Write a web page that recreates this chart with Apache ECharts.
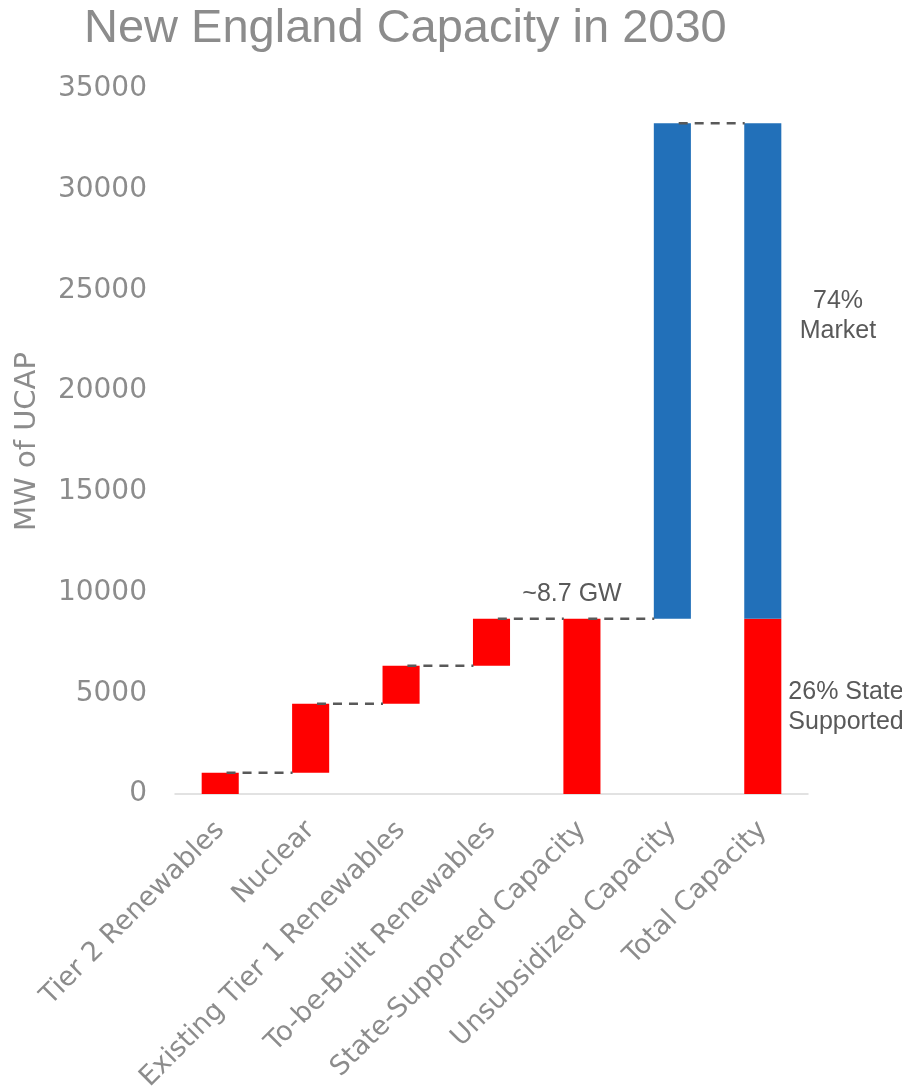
<!DOCTYPE html>
<html>
<head>
    <meta charset="utf-8">
    <title>New England Capacity in 2030</title>
    <script src="https://cdn.jsdelivr.net/npm/echarts@6/dist/echarts.min.js"></script>
    <style>
        html, body { margin: 0; padding: 0; background: #fff; }
        #chart-container { width: 902px; height: 1089px; }
    </style>
</head>
<body>
<div id="chart-container"></div>

<script>
    // data
    var categories = [
        'Tier 2 Renewables', 'Nuclear', 'Existing Tier 1 Renewables',
        'To-be-Built Renewables', 'State-Supported Capacity',
        'Unsubsidized Capacity', 'Total Capacity'
    ];
    var baseValues   = [0, 1050, 4480, 6370, 0, 8700, 0];       // invisible floor of each step
    var stateValues  = [1050, 3430, 1890, 2330, 8700, 0, 8700];  // red part
    var marketValues = [0, 0, 0, 0, 0, 24600, 24600];            // blue part

    // connector lines sit at the top of each bar, up to the next bar
    var tops = baseValues.map(function (b, i) { return b + stateValues[i] + marketValues[i]; });
    var connectorData = tops.slice(0, categories.length - 1).map(function (v, i) { return [i, v]; });

    var grey = '#8c8c8c';
    var dark = '#595959';

    var myChart = echarts.init(document.getElementById('chart-container'));

    var option = {
        animation: false,
        title: {
            text: 'New England Capacity in 2030',
            left: 84,
            top: 6,
            padding: 0,
            textStyle: {
                fontFamily: 'Liberation Sans',
                fontSize: 47,
                fontWeight: 'normal',
                color: grey
            }
        },
        grid: { left: 175, right: 94, top: 89, bottom: 295, containLabel: false, outerBoundsMode: 'none' },
        xAxis: {
            type: 'category',
            data: categories,
            axisLine: { lineStyle: { color: '#d9d9d9', width: 1.5 } },
            axisTick: { show: false },
            axisLabel: {
                interval: 0,
                rotate: 45,
                margin: 32,
                color: grey,
                fontSize: 27,
                fontFamily: 'DejaVu Sans'
            }
        },
        yAxis: {
            type: 'value',
            min: 0,
            max: 35000,
            interval: 5000,
            name: 'MW of UCAP',
            nameLocation: 'middle',
            nameGap: 133,
            nameTextStyle: { color: grey, fontSize: 29, fontFamily: 'DejaVu Sans' },
            axisLine: { show: false },
            axisTick: { show: false },
            splitLine: { show: false },
            axisLabel: {
                color: grey, fontSize: 28, margin: 28, fontFamily: 'DejaVu Sans',
                formatter: function (v) { return String(v); }
            }
        },
        series: [
            {
                name: 'base',
                type: 'bar',
                stack: 'w',
                barWidth: '41%',
                itemStyle: { color: 'transparent' },
                data: baseValues
            },
            {
                name: 'State Supported',
                type: 'bar',
                stack: 'w',
                barWidth: '41%',
                itemStyle: { color: '#ff0000' },
                data: stateValues
            },
            {
                name: 'Market',
                type: 'bar',
                stack: 'w',
                barWidth: '41%',
                itemStyle: { color: '#2270b9' },
                data: marketValues
            },
            {
                name: 'connectors',
                type: 'custom',
                z: 5,
                encode: { x: 0, y: 1 },
                data: connectorData,
                renderItem: function (params, api) {
                    var i = api.value(0);
                    var v = api.value(1);
                    var p0 = api.coord([i, v]);
                    var p1 = api.coord([i + 1, v]);
                    var band = api.size([1, 0])[0];
                    return {
                        type: 'line',
                        shape: { x1: p0[0] + band * 0.07, y1: p0[1], x2: p1[0] - band * 0.2, y2: p1[1] },
                        style: { stroke: dark, lineWidth: 2.5, lineDash: [9, 7] }
                    };
                }
            }
        ],
        graphic: [
            {
                type: 'text',
                x: 572, y: 594,
                style: {
                    text: '~8.7 GW', fill: dark, fontSize: 25, fontFamily: 'Liberation Sans',
                    textAlign: 'center', textVerticalAlign: 'middle'
                }
            },
            {
                type: 'text',
                x: 838, y: 316,
                style: {
                    text: '74%\nMarket', fill: dark, fontSize: 25, lineHeight: 30,
                    fontFamily: 'Liberation Sans', textAlign: 'center', textVerticalAlign: 'middle'
                }
            },
            {
                type: 'text',
                x: 846, y: 707,
                style: {
                    text: '26% State\nSupported', fill: dark, fontSize: 25, lineHeight: 30,
                    fontFamily: 'Liberation Sans', textAlign: 'center', textVerticalAlign: 'middle'
                }
            }
        ]
    };

    myChart.setOption(option);
</script>
</body>
</html>
